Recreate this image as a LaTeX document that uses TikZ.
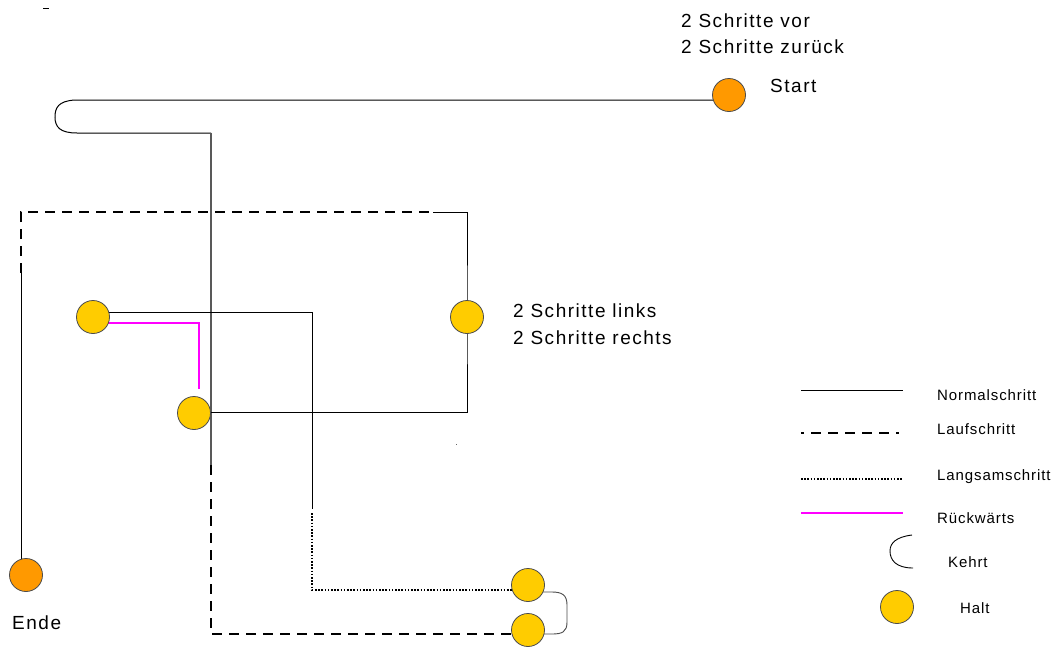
\documentclass[tikz,border=0pt]{standalone}
\usepackage{fontspec}
\setmainfont{Liberation Sans}
\newfontfamily\lab{Liberation Sans}[LetterSpace=6]
\newfontfamily\labw{Liberation Sans}[LetterSpace=8]
\usetikzlibrary{backgrounds}
\definecolor{haltyellow}{HTML}{FFCC00}
\definecolor{startorange}{HTML}{FF9900}
\definecolor{pink}{HTML}{FF00FF}
\begin{document}
\begin{tikzpicture}[x=1pt,y=-1pt,
  normal/.style={line width=1pt,draw=black},
  normalgray/.style={line width=1.2pt,draw=black!65},
  lauf/.style={line width=2pt,draw=black,dash pattern=on 10pt off 7pt},
  langsam/.style={line width=1.6pt,draw=black,dash pattern=on 1.6pt off 1.6pt},
  rueck/.style={line width=2pt,draw=pink},
  haltc/.style={circle,draw=black!70,fill=haltyellow,minimum size=33pt,inner sep=0pt,line width=0.8pt},
  startc/.style={haltc,fill=startorange},
  biglabel/.style={anchor=base west,inner sep=0pt,font=\labw\fontsize{19}{23}\selectfont},
  leglabel/.style={anchor=base west,inner sep=0pt,font=\lab\fontsize{15}{18}\selectfont}]
\useasboundingbox (0,0) rectangle (1055,646);

% stops
\node[startc] (start) at (729,95) {};
\node[haltc] (h1) at (93,317) {};
\node[haltc] (h2) at (194,413) {};
\node[haltc] (h3) at (467,317) {};
\node[haltc] (h4) at (528,585) {};
\node[haltc] (h5) at (528,630) {};
\node[startc] (ende) at (26,575) {};

% labels
\node[biglabel] (t1) at (681,27) {2 Schritte vor};
\node[biglabel] (t2) at (681,53) {2 Schritte zurück};
\node[biglabel] (tstart) at (770,92) {Start};
\node[biglabel] (t3) at (513,317) {2 Schritte links};
\node[biglabel] (t4) at (513,344) {2 Schritte rechts};
\node[biglabel] (tende) at (12,629) {Ende};

% corners
\coordinate (k1) at (75,100);
\coordinate (k2) at (77,133);
\coordinate (c1) at (211,133);
\coordinate (c2) at (211,465);
\coordinate (c3) at (211,634);
\coordinate (e1) at (21,273);
\coordinate (e2) at (21,212);
\coordinate (e3) at (433,212);
\coordinate (e4) at (467,212);
\coordinate (e5) at (467,412);
\coordinate (m1) at (312,312);
\coordinate (m2) at (312,509);
\coordinate (m3) at (312,513);
\coordinate (m4) at (312,590);
\coordinate (p1) at (199,323);
\coordinate (p2) at (199,389);

\begin{scope}[on background layer]
\fill[white] (0,0) rectangle (1055,646);
\draw[normal] (start.center |- k1) -- (k1) .. controls (58,101) and (55,108) .. (55,117)
  .. controls (55,127) and (60,133) .. (k2) -- (c1);
\draw[normalgray] (c1) -- (c2);
\draw[lauf] (c2) -- (c3) -- (h5.center |- c3);
\draw[normal] (ende.center -| e1) -- (e1);
\draw[lauf] (e1) -- (e2) -- (e3);
\draw[normal] (e3) -- (e4) -- (h3.center) -- (e5) -- (h2.center |- e5);
\draw[normal] (h1.center |- m1) -- (m1) -- (m2);
\draw[langsam] (m3) -- (m4) -- (h4.center |- m4);
\draw[rueck] (h1.center |- p1) -- (p1) -- (p2);
\draw[line width=0.9pt,draw=black!70] (h4.center |- 0,592) -- (552,592) .. controls (562,592) and (567,595) .. (567,605)
  -- (567,622) .. controls (567,632) and (562,634) .. (552,634) -- (h5.center |- 0,634);
\end{scope}

% stray marks
\draw[line width=1pt] (43,8.5) -- (49,8.5);
\fill[black!60] (456,444) rectangle (457,445);

% legend
\coordinate (la1) at (801,390); \coordinate (lb1) at (903,390);
\coordinate (la2) at (801,433); \coordinate (lb2) at (903,433);
\coordinate (la3) at (801,479); \coordinate (lb3) at (903,479);
\coordinate (la4) at (801,513); \coordinate (lb4) at (903,513);
\draw[normal] (la1) -- (lb1);
\draw[lauf,dash pattern=on 3pt off 7pt on 10pt off 7pt on 10pt off 7pt on 10pt off 7pt on 10pt off 7pt on 10pt off 7pt] (la2) -- (lb2);
\draw[langsam] (la3) -- (lb3);
\draw[rueck] (la4) -- (lb4);
\coordinate (kt1) at (912,535); \coordinate (kt2) at (913,568);
\draw[line width=0.9pt] (kt1) .. controls (896,537) and (890,543) .. (890,551)
  .. controls (890,560) and (896,568) .. (kt2);
\node[haltc] (lhalt) at (897,607) {};
\node[leglabel] (n1) at (937,400) {Normalschritt};
\node[leglabel] (n2) at (937,434) {Laufschritt};
\node[leglabel] (n3) at (937,480) {Langsamschritt};
\node[leglabel] (n4) at (937,523) {Rückwärts};
\node[leglabel] (n5) at (948,567) {Kehrt};
\node[leglabel] (n6) at (960,613) {Halt};
\end{tikzpicture}
\end{document}
